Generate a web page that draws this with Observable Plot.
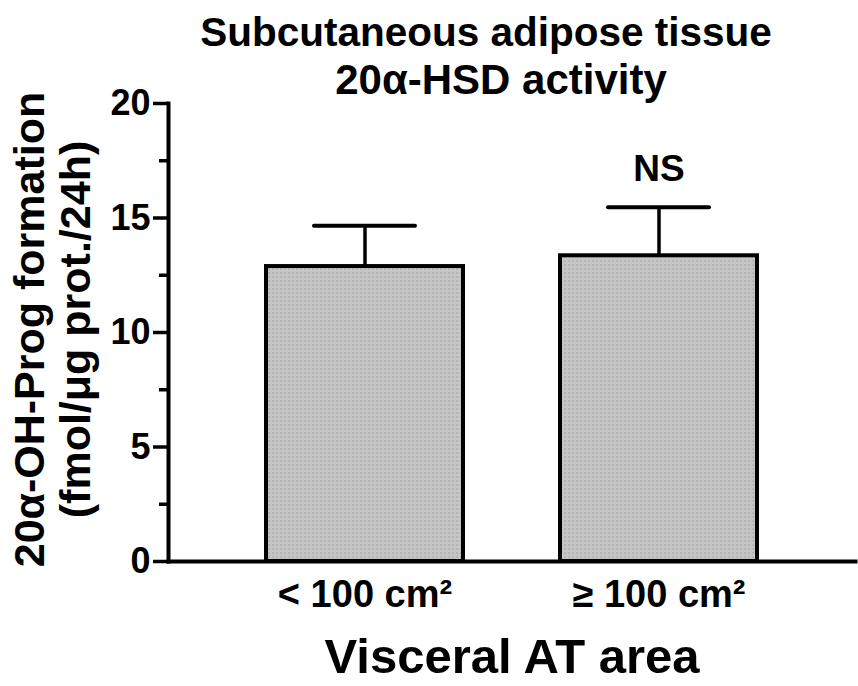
<!DOCTYPE html>
<html><head><meta charset="utf-8">
<script src="https://cdn.jsdelivr.net/npm/d3@7"></script>
<script src="https://cdn.jsdelivr.net/npm/@observablehq/plot@0.6"></script>
<style>
body{margin:0;background:#fff;}
</style></head><body>
<div id="chart"></div>
<script>
const categories = ["< 100 cm²", "≥ 100 cm²"];
const means = [12.88, 13.35];
const sems = [1.78, 2.12];
const annotations = ["", "NS"];
const yTicks = [0, 5, 10, 15, 20];
const yMinorTicks = [2.5, 7.5, 12.5, 17.5];
const titleLines = ["Subcutaneous adipose tissue", "20α-HSD activity"];
const yLabelLines = ["20α-OH-Prog formation", "(fmol/μg prot./24h)"];
const xLabel = "Visceral AT area";

const data = categories.map((c, i) => ({cat: c, mean: means[i], top: means[i] + sems[i], note: annotations[i]}));

const svg = Plot.plot({
  width: 858,
  height: 686,
  marginLeft: 168,
  marginRight: 3,
  marginTop: 103,
  marginBottom: 125,
  style: {fontFamily: "'Liberation Sans', Arial, sans-serif", background: "#fff", color: "#000"},
  x: {domain: categories, padding: 0.33},
  y: {domain: [0, 20]},
  marks: [
    Plot.barY(data, {x: "cat", y: "mean", fill: "url(#stipple)", stroke: "#000", strokeWidth: 4}),
    Plot.ruleX(data, {x: "cat", y1: "mean", y2: "top", stroke: "#000", strokeWidth: 3.5}),
    Plot.tickY(data, {x: "cat", y: "top", insetLeft: 48, insetRight: 48, stroke: "#000", strokeWidth: 4, strokeLinecap: "round"}),
    Plot.text(data, {x: "cat", y: "top", text: "note", dy: -26, lineAnchor: "bottom", fontSize: 37, fontWeight: "bold", fill: "#000"}),
    Plot.axisY({ticks: yMinorTicks, tickSize: 9, tickFormat: () => "", label: null, strokeWidth: 3.5}),
    Plot.axisY({ticks: yTicks, tickSize: 15, tickPadding: 3, tickFormat: d => String(d), label: null, fontSize: 36, fontWeight: "bold", strokeWidth: 3.5}),
    Plot.axisX({tickSize: 0, tickPadding: 19, label: null, fontSize: 38, fontWeight: "bold"}),
    Plot.frame({anchor: "left", stroke: "#000", strokeWidth: 4}),
    Plot.frame({anchor: "bottom", stroke: "#000", strokeWidth: 4}),
    Plot.text([titleLines[0]], {frameAnchor: "top", dx: -26, dy: -58, lineAnchor: "bottom", fontSize: 40.5, fontWeight: "bold", fill: "#000"}),
    Plot.text([titleLines[1]], {frameAnchor: "top", dx: -11, dy: -10, lineAnchor: "bottom", fontSize: 42, fontWeight: "bold", fill: "#000"}),
    Plot.text([yLabelLines.join("\n")], {frameAnchor: "left", dx: -116, dy: -3, rotate: -90, textAnchor: "middle", lineAnchor: "middle", lineHeight: 1.07, fontSize: 43, fontWeight: "bold", fill: "#000"}),
    Plot.text([xLabel], {frameAnchor: "bottom", dy: 111, lineAnchor: "bottom", fontSize: 49, fontWeight: "bold", fill: "#000"})
  ]
});

d3.select(svg).selectAll('[aria-label="y-axis tick"]').attr("stroke-width", 3.5).selectAll("path").attr("stroke-width", 3.5);

const defs = d3.select(svg).insert("defs", ":first-child");
const pat = defs.append("pattern").attr("id", "stipple").attr("width", 4).attr("height", 4).attr("patternUnits", "userSpaceOnUse");
pat.append("rect").attr("width", 4).attr("height", 4).attr("fill", "#c5c5c5");
pat.append("rect").attr("width", 2).attr("height", 2).attr("fill", "#b5b5b5");

document.getElementById("chart").appendChild(svg);
</script>
</body></html>
